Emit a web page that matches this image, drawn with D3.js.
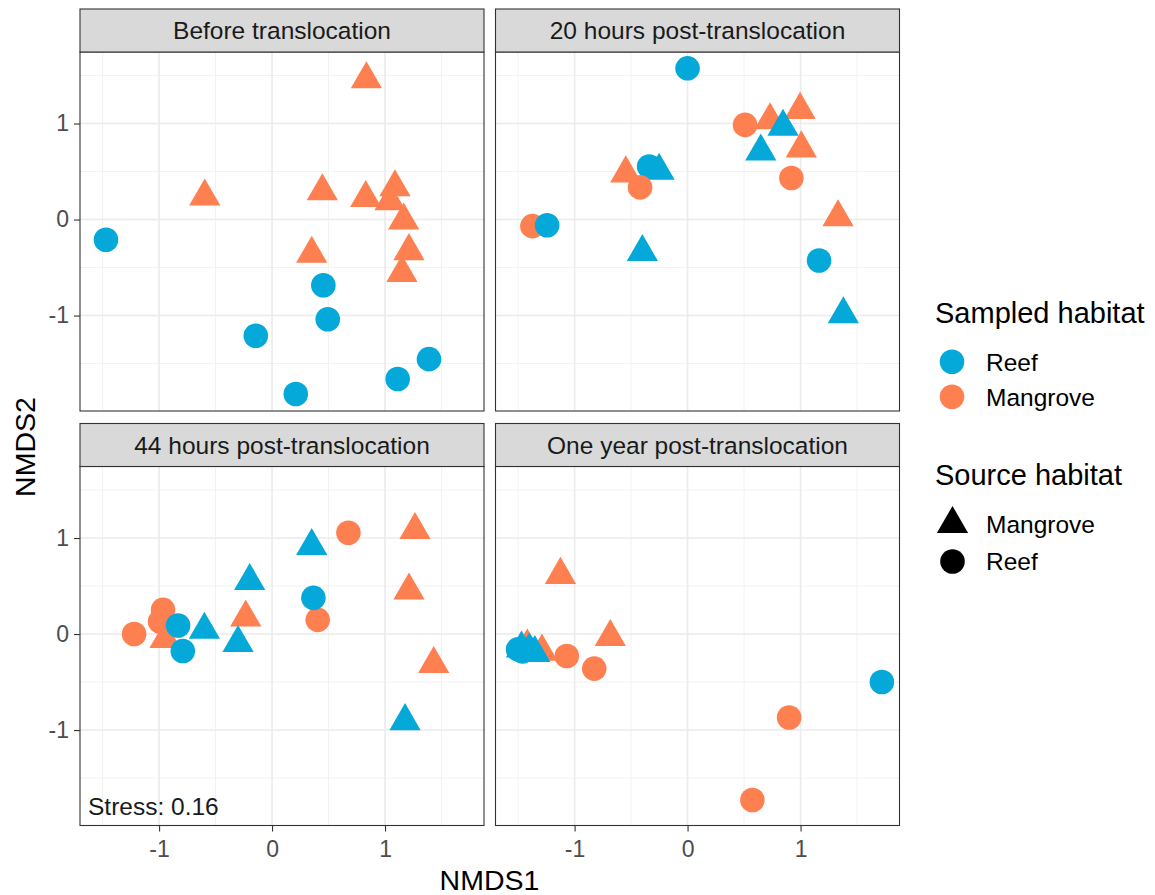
<!DOCTYPE html>
<html>
<head>
<meta charset="utf-8">
<script src="https://cdn.jsdelivr.net/npm/d3@7"></script>
<style>
  body { margin: 0; background: #fff; }
  text { font-family: "Liberation Sans", Arial, sans-serif; }
</style>
</head>
<body>
<div id="chart"></div>
<script>
// panel titles (facet order)
var panelTitles = ["Before translocation", "20 hours post-translocation",
                   "44 hours post-translocation", "One year post-translocation"];

// each point: [NMDS1, NMDS2, sampled habitat, source habitat]
var beforePts = [
  [0.835, 1.461, "Mangrove", "Mangrove"], [-0.596, 0.239, "Mangrove", "Mangrove"],
  [0.445, 0.294, "Mangrove", "Mangrove"], [0.829, 0.225, "Mangrove", "Mangrove"],
  [1.044, 0.19, "Mangrove", "Mangrove"], [1.088, 0.336, "Mangrove", "Mangrove"],
  [1.165, -0.01, "Mangrove", "Mangrove"], [0.351, -0.356, "Mangrove", "Mangrove"],
  [1.212, -0.329, "Mangrove", "Mangrove"], [1.15, -0.557, "Mangrove", "Mangrove"],
  [-1.47, -0.21, "Reef", "Reef"], [0.454, -0.685, "Reef", "Reef"],
  [0.493, -1.038, "Reef", "Reef"], [-0.144, -1.21, "Reef", "Reef"],
  [0.21, -1.817, "Reef", "Reef"], [1.112, -1.66, "Reef", "Reef"],
  [1.389, -1.454, "Reef", "Reef"]
];

var h20Pts = [
  [-1.373, -0.069, "Mangrove", "Reef"], [0.509, 0.986, "Mangrove", "Reef"],
  [0.919, 0.433, "Mangrove", "Reef"],
  [-0.547, 0.481, "Mangrove", "Mangrove"], [0.73, 1.035, "Mangrove", "Mangrove"],
  [0.996, 1.142, "Mangrove", "Mangrove"], [1.007, 0.741, "Mangrove", "Mangrove"],
  [1.332, 0.024, "Mangrove", "Mangrove"],
  [0.0, 1.575, "Reef", "Reef"], [-1.243, -0.059, "Reef", "Reef"],
  [-0.34, 0.553, "Reef", "Reef"], [1.164, -0.426, "Reef", "Reef"],
  [-0.252, 0.509, "Reef", "Mangrove"], [0.845, 0.966, "Reef", "Mangrove"],
  [0.648, 0.709, "Reef", "Mangrove"], [-0.4, -0.339, "Reef", "Mangrove"],
  [1.379, -0.986, "Reef", "Mangrove"],
  [-0.42, 0.335, "Mangrove", "Reef"]
];

var h44Pts = [
  [-0.947, -0.052, "Mangrove", "Mangrove"], [-0.233, 0.172, "Mangrove", "Mangrove"],
  [1.265, 1.083, "Mangrove", "Mangrove"], [1.212, 0.453, "Mangrove", "Mangrove"],
  [1.431, -0.312, "Mangrove", "Mangrove"],
  [-1.221, 0.0, "Mangrove", "Reef"], [-0.965, 0.252, "Mangrove", "Reef"],
  [-0.991, 0.131, "Mangrove", "Reef"], [0.676, 1.055, "Mangrove", "Reef"],
  [0.404, 0.148, "Mangrove", "Reef"],
  [-0.832, 0.089, "Reef", "Reef"], [-0.79, -0.177, "Reef", "Reef"],
  [0.366, 0.377, "Reef", "Reef"],
  [-0.599, 0.045, "Reef", "Mangrove"], [-0.198, 0.553, "Reef", "Mangrove"],
  [-0.301, -0.094, "Reef", "Mangrove"], [0.351, 0.917, "Reef", "Mangrove"],
  [1.177, -0.907, "Reef", "Mangrove"]
];

var yearPts = [
  [-1.125, 0.616, "Mangrove", "Mangrove"], [-0.684, -0.031, "Mangrove", "Mangrove"],
  [-1.419, -0.13, "Mangrove", "Mangrove"], [-1.289, -0.183, "Mangrove", "Mangrove"],
  [1.72, -0.499, "Reef", "Reef"], [-1.50, -0.16, "Reef", "Reef"],
  [-1.46, -0.18, "Reef", "Reef"], [-1.42, -0.16, "Reef", "Reef"],
  [-1.47, -0.15, "Reef", "Mangrove"], [-1.40, -0.17, "Reef", "Mangrove"],
  [-1.352, -0.198, "Reef", "Mangrove"],
  [-1.069, -0.229, "Mangrove", "Reef"], [-0.826, -0.36, "Mangrove", "Reef"],
  [0.899, -0.869, "Mangrove", "Reef"], [0.574, -1.728, "Mangrove", "Reef"]
];

var panelData = [beforePts, h20Pts, h44Pts, yearPts];

var majorTicks = [-1, 0, 1];
var minorTicks = [-1.5, -0.5, 0.5, 1.5];
var sampledLevels = ["Reef", "Mangrove"];
var sourceLevels = ["Mangrove", "Reef"];
var stressLabel = "Stress: 0.16";

// ---- layout ----
var W = 1155, H = 895;
var pw = 404, ph = 359, stripH = 43;
var colX = [80, 495.5];
var rowY = [9, 423.5];   // top of strips

var svg = d3.select("#chart").append("svg")
  .attr("width", W).attr("height", H);

var x = d3.scaleLinear().domain([-1.70, 1.876]).range([0, pw]);
var y = d3.scaleLinear().domain([-1.994, 1.745]).range([ph, 0]);

var color = d3.scaleOrdinal().domain(sampledLevels).range(["#04a9da", "#fe7f50"]);

var R = 11.6; // base point radius
function triPath(r) {
  var t0 = 1.555 * r, t1 = 1.347 * r, t2 = 0.778 * r;
  return "M0," + (-t0) + "L" + t1 + "," + t2 + "L" + (-t1) + "," + t2 + "Z";
}

// plain hyphen minus, like the R output
var tickFmt = function(d) { return String(d); };

panelData.forEach(function(pts, i) {
  var col = i % 2, row = Math.floor(i / 2);
  var g = svg.append("g")
    .attr("transform", "translate(" + colX[col] + "," + (rowY[row] + stripH) + ")");

  // strip
  var strip = svg.append("g")
    .attr("transform", "translate(" + colX[col] + "," + rowY[row] + ")");
  strip.append("rect")
    .attr("width", pw).attr("height", stripH)
    .attr("fill", "#d9d9d9").attr("stroke", "#333").attr("stroke-width", 1.1);
  strip.append("text")
    .attr("x", pw / 2).attr("y", stripH / 2 + 8.8)
    .attr("text-anchor", "middle")
    .attr("font-size", "24.5px").attr("fill", "#1a1a1a")
    .text(panelTitles[i]);

  g.append("rect").attr("width", pw).attr("height", ph).attr("fill", "#fff");

  // grid lines
  g.selectAll(".vminor").data(minorTicks).enter().append("line")
    .attr("x1", d => x(d)).attr("x2", d => x(d)).attr("y1", 0).attr("y2", ph)
    .attr("stroke", "#f2f2f2").attr("stroke-width", 1);
  g.selectAll(".hminor").data(minorTicks).enter().append("line")
    .attr("y1", d => y(d)).attr("y2", d => y(d)).attr("x1", 0).attr("x2", pw)
    .attr("stroke", "#f2f2f2").attr("stroke-width", 1);
  g.selectAll(".vmajor").data(majorTicks).enter().append("line")
    .attr("x1", d => x(d)).attr("x2", d => x(d)).attr("y1", 0).attr("y2", ph)
    .attr("stroke", "#ebebeb").attr("stroke-width", 1.6);
  g.selectAll(".hmajor").data(majorTicks).enter().append("line")
    .attr("y1", d => y(d)).attr("y2", d => y(d)).attr("x1", 0).attr("x2", pw)
    .attr("stroke", "#ebebeb").attr("stroke-width", 1.6);

  // points (clipped to panel)
  svg.append("clipPath").attr("id", "clip" + i)
    .append("rect").attr("width", pw).attr("height", ph);
  var pg = g.append("g").attr("clip-path", "url(#clip" + i + ")");
  pts.forEach(function(d) {
    if (d[3] === "Reef") {
      pg.append("circle")
        .attr("cx", x(d[0])).attr("cy", y(d[1])).attr("r", R + 0.7)
        .attr("fill", color(d[2]));
    } else {
      pg.append("path")
        .attr("d", triPath(R))
        .attr("transform", "translate(" + x(d[0]) + "," + y(d[1]) + ")")
        .attr("fill", color(d[2]));
    }
  });

  // panel border
  g.append("rect").attr("width", pw).attr("height", ph)
    .attr("fill", "none").attr("stroke", "#333").attr("stroke-width", 1.1);

  // axes
  if (row === 1) {
    var xa = g.append("g").attr("transform", "translate(0," + ph + ")")
      .call(d3.axisBottom(x).tickValues(majorTicks).tickSize(6).tickPadding(9)
        .tickFormat(tickFmt));
    xa.select(".domain").remove();
    xa.selectAll("line").attr("stroke", "#333").attr("stroke-width", 1.1);
    xa.selectAll("text").attr("font-size", "23px").attr("fill", "#4d4d4d")
      .attr("font-family", "Liberation Sans, Arial, sans-serif");
  }
  if (col === 0) {
    var ya = g.append("g")
      .call(d3.axisLeft(y).tickValues(majorTicks).tickSize(6).tickPadding(5)
        .tickFormat(tickFmt));
    ya.select(".domain").remove();
    ya.selectAll("line").attr("stroke", "#333").attr("stroke-width", 1.1);
    ya.selectAll("text").attr("font-size", "23px").attr("fill", "#4d4d4d")
      .attr("font-family", "Liberation Sans, Arial, sans-serif");
  }

  if (i === 2) {
    g.append("text").attr("x", 8).attr("y", ph - 11)
      .attr("font-size", "24.5px").attr("fill", "#1a1a1a")
      .text(stressLabel);
  }
});

// axis titles
svg.append("text").attr("x", 489.5).attr("y", 890)
  .attr("text-anchor", "middle").attr("font-size", "28.5px").attr("fill", "#000")
  .text("NMDS1");
svg.append("text")
  .attr("transform", "translate(35,447) rotate(-90)")
  .attr("text-anchor", "middle").attr("font-size", "28.5px").attr("fill", "#000")
  .text("NMDS2");

// legends
var lg = svg.append("g");
lg.append("text").attr("x", 935).attr("y", 323)
  .attr("font-size", "29px").attr("fill", "#000").text("Sampled habitat");
sampledLevels.forEach(function(s, k) {
  var cy = 361.7 + k * 35;
  lg.append("circle").attr("cx", 952).attr("cy", cy).attr("r", R + 0.7)
    .attr("fill", color(s));
  lg.append("text").attr("x", 986).attr("y", cy + 8.8)
    .attr("font-size", "24.5px").attr("fill", "#000").text(s);
});

lg.append("text").attr("x", 935).attr("y", 485)
  .attr("font-size", "29px").attr("fill", "#000").text("Source habitat");
sourceLevels.forEach(function(s, k) {
  var cy = 524 + k * 37.5;
  if (s === "Reef") {
    lg.append("circle").attr("cx", 952.5).attr("cy", cy).attr("r", R + 0.7)
      .attr("fill", "#000");
  } else {
    lg.append("path").attr("d", triPath(R))
      .attr("transform", "translate(952.5," + cy + ")").attr("fill", "#000");
  }
  lg.append("text").attr("x", 986).attr("y", cy + 8.8)
    .attr("font-size", "24.5px").attr("fill", "#000").text(s);
});
</script>
</body>
</html>
